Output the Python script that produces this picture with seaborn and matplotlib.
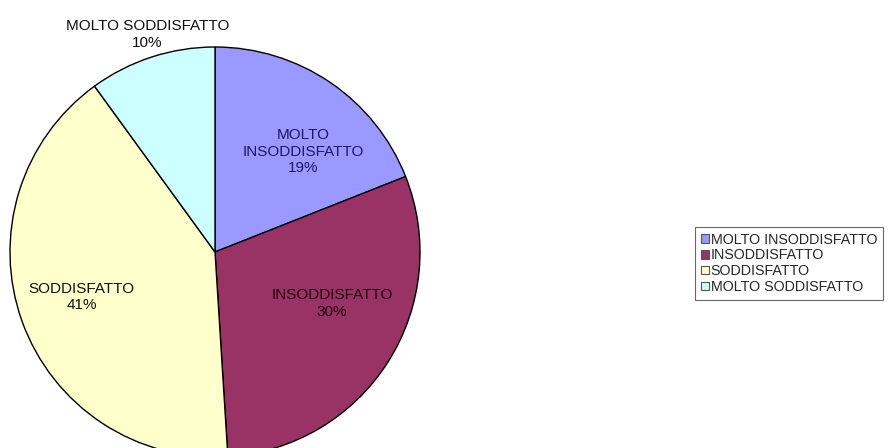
import seaborn as sns
import matplotlib.pyplot as plt
from matplotlib.patches import Patch

sns.set_theme(style="white")
plt.rcParams['font.family'] = ['Liberation Sans', 'DejaVu Sans']

categorie = ["MOLTO INSODDISFATTO", "INSODDISFATTO", "SODDISFATTO", "MOLTO SODDISFATTO"]
percentuali = [19, 30, 41, 10]
colori = ["#9999ff", "#993366", "#ffffcc", "#ccffff"]
etichette = ["MOLTO\nINSODDISFATTO\n19%", "INSODDISFATTO\n30%", "SODDISFATTO\n41%", "MOLTO SODDISFATTO\n10%"]

fig = plt.figure(figsize=(8.89, 4.48), dpi=100)
# pie slightly cut off at the bottom like the original
ax = fig.add_axes([10 / 889, -9 / 448, 410 / 889, 410 / 448])
wedges, _ = ax.pie(percentuali, colors=colori, startangle=90, counterclock=False,
                   wedgeprops=dict(edgecolor="black", linewidth=1.0), radius=1)
ax.set_xlim(-1.0, 1.0)
ax.set_ylim(-1.0, 1.0)
ax.set_aspect('auto')

pos_testi = [(0.43, 0.49), (0.57, -0.25), (-0.65, -0.22), (-0.33, 1.06)]
col_testi = ["#1a1a66", "#220011", "#111111", "#111111"]
for (x, y), t, c in zip(pos_testi, etichette, col_testi):
    ax.text(x, y, t, ha="center", va="center", fontsize=11, color=c,
            linespacing=1.25, clip_on=False)

handles = [Patch(facecolor=c, edgecolor="#555555", linewidth=0.8) for c in colori]
leg = fig.legend(handles, categorie, loc="upper left",
                 bbox_to_anchor=(695 / 889, 1 - 227 / 448),
                 fontsize=10.3, frameon=True, fancybox=False, edgecolor="#444444",
                 handlelength=0.55, handleheight=0.55, handletextpad=0.15,
                 labelspacing=0.12, borderpad=0.4, borderaxespad=0)
leg.get_frame().set_linewidth(0.8)

plt.savefig("out.png", dpi=100)
